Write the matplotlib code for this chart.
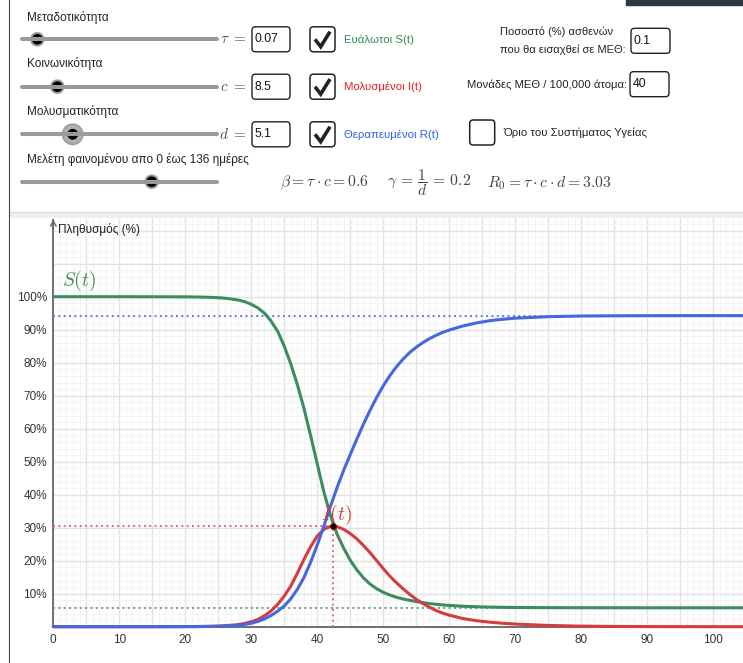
import matplotlib.pyplot as plt
from matplotlib.patches import Circle, FancyBboxPatch, Rectangle

plt.rcParams["font.family"] = ["Liberation Sans", "DejaVu Sans"]
plt.rcParams["mathtext.fontset"] = "cm"

# Καμπύλες του μοντέλου SIR (τιμές σε %), διαβασμένες από το γράφημα.
days = [0, 5, 10, 15, 20, 22, 24,
        25, 26, 27, 28, 29, 30, 31, 32, 33, 34, 35, 36, 37, 38, 39, 40,
        41, 42, 43, 44, 45, 46, 47, 48, 49, 50, 51, 52, 53, 54, 55, 56,
        57, 58, 59, 60, 62, 64, 66, 68, 70, 75, 80, 85, 90, 95, 100, 105]

susceptible = [100, 100, 100, 99.98, 99.95, 99.9, 99.8,
               99.7, 99.55, 99.3, 99.0, 98.5, 97.7, 96.6, 95.0, 92.6, 89.5, 85.0, 79.5, 73.2, 66.0, 57.8, 49.3,
               40.8, 33.7, 28.0, 23.8, 20.1, 17.2, 14.8, 12.9, 11.5, 10.4, 9.6, 8.9, 8.4, 8.0, 7.6, 7.3,
               7.0, 6.8, 6.6, 6.45, 6.2, 6.05, 5.95, 5.88, 5.82, 5.77, 5.75, 5.74, 5.73, 5.73, 5.73, 5.73]

infected = [0, 0, 0, 0.01, 0.03, 0.06, 0.13,
            0.2, 0.3, 0.45, 0.65, 1.0, 1.5, 2.2, 3.3, 4.8, 6.8, 9.3, 12.4, 16.3, 20.5, 24.3, 27.5,
            29.5, 30.4, 30.3, 29.5, 28.2, 26.6, 24.6, 22.4, 20.0, 17.6, 15.3, 13.3, 11.5, 9.8, 8.3, 7.0,
            5.9, 4.9, 4.1, 3.5, 2.5, 1.85, 1.4, 1.05, 0.8, 0.38, 0.17, 0.08, 0.04, 0.02, 0.01, 0.0]

recovered = [0, 0, 0, 0, 0.02, 0.04, 0.09,
             0.13, 0.2, 0.3, 0.45, 0.68, 1.05, 1.6, 2.35, 3.4, 4.7, 6.3, 8.5, 11.4, 15.0, 19.6, 24.8,
             30.5, 36.5, 42.2, 47.4, 52.2, 56.9, 61.4, 65.6, 69.5, 73.0, 76.1, 78.8, 81.1, 83.1, 84.7, 86.1,
             87.3, 88.3, 89.2, 89.9, 91.1, 92.0, 92.7, 93.15, 93.5, 93.95, 94.15, 94.22, 94.25, 94.27, 94.27, 94.27]

s_final = 5.7
r_final = 94.2
peak_day = 42.4
peak_value = 30.46

x_ticks = [0, 10, 20, 30, 40, 50, 60, 70, 80, 90, 100]
y_ticks = [10, 20, 30, 40, 50, 60, 70, 80, 90, 100]

# Στοιχεία ελέγχου της εφαρμογής.
slider_labels = ["Μεταδοτικότητα", "Κοινωνικότητα", "Μολυσματικότητα",
                 "Μελέτη φαινομένου απο 0 έως 136 ημέρες"]
param_symbols = [r"$\tau\;=$", r"$c\;=$", r"$d\;=$"]
param_values = ["0.07", "8.5", "5.1"]
curve_names = ["Ευάλωτοι S(t)", "Μολυσμένοι I(t)", "Θεραπευμένοι R(t)"]

GREEN = "#3c8c5f"
RED = "#d63c3c"
BLUE = "#4468dd"
TEXT_COLORS = ["#2e8b57", "#e0201e", "#3060ee"]

X_MIN, X_MAX = -6.56, 104.5
Y_MIN, Y_MAX = -11.0, 123.85

fig = plt.figure(figsize=(7.43, 6.63), dpi=100)

# Πάνελ σε συντεταγμένες pixel.
panel = fig.add_axes([0, 0, 1, 1])
panel.set_xlim(0, 743)
panel.set_ylim(663, 0)
panel.axis("off")

panel.add_patch(Rectangle((626, 0), 117, 4.7, color="#2b3a42"))
panel.plot([9.3, 9.3], [0, 663], color="#444444", lw=0.8)
panel.add_patch(Rectangle((10, 211.5), 733, 6.5, color="#efefef"))
panel.plot([10, 743], [211.5, 211.5], color="#dcdcdc", lw=0.8)


def draw_box(x, yc, w, text=None):
    panel.add_patch(FancyBboxPatch((x, yc - 12.5), w, 25,
                                   boxstyle="round,pad=0,rounding_size=3.5",
                                   fc="white", ec="#222222", lw=1.0))
    if text is not None:
        panel.text(x + 2.5, yc, text, fontsize=8.8, va="center", ha="left", color="#111111")


def draw_checkbox(x, yc, checked):
    panel.add_patch(FancyBboxPatch((x, yc - 12.5), 25, 25,
                                   boxstyle="round,pad=0,rounding_size=3.5",
                                   fc="white", ec="#222222", lw=1.1))
    if checked:
        panel.plot([x + 5, x + 10.7, x + 20], [yc, yc + 7.4, yc - 7.6],
                   color="#222222", lw=2.6, solid_capstyle="butt", solid_joinstyle="miter")


def draw_slider(y, knob_x, halo):
    panel.plot([21.7, 216.7], [y, y], color="#9a9a9a", lw=2.9, solid_capstyle="round")
    panel.add_patch(Circle((knob_x, y), halo, color="#7a7a7a", alpha=0.6))
    panel.add_patch(Circle((knob_x, y), 4.7, color="black"))


label_y = [17.5, 64, 111, 159.3]
slider_y = [39.3, 86.7, 134.3, 181.7]
knob_x = [37.3, 57.3, 72.7, 151.7]
halos = [6.7, 6.7, 10.3, 6.7]

for i in range(4):
    panel.text(27, label_y[i], slider_labels[i], fontsize=8.5, va="center", color="#222222")
    draw_slider(slider_y[i], knob_x[i], halos[i])

for i in range(3):
    panel.text(246, slider_y[i], param_symbols[i], fontsize=11, va="center", ha="right", color="#555555")
    draw_box(252, slider_y[i], 38, param_values[i])
    draw_checkbox(310, slider_y[i], True)
    panel.text(344, slider_y[i], curve_names[i], fontsize=8.2, va="center", color=TEXT_COLORS[i])

panel.text(500, 31.7, "Ποσοστό (%) ασθενών", fontsize=8.0, va="center", color="#222222")
panel.text(500, 49.5, "που θα εισαχθεί σε ΜΕΘ:", fontsize=8.0, va="center", color="#222222")
draw_box(631, 40.8, 39, "0.1")
panel.text(467, 85, "Μονάδες ΜΕΘ / 100,000 άτομα:", fontsize=8.1, va="center", color="#222222")
draw_box(630, 84.2, 39, "40")
draw_checkbox(469.7, 132.5, False)
panel.text(503.7, 132.7, "Όριο του Συστήματος Υγείας", fontsize=8.2, va="center", color="#222222")

formula_kw = dict(fontsize=11.3, va="center", color="#444444")
panel.text(280, 183, r"$\beta = \tau\cdot c = 0.6$", **formula_kw)
panel.text(387, 183, r"$\gamma\, =\, \dfrac{1}{d}\, =\, 0.2$", **formula_kw)
panel.text(487, 183, r"$R_0 = \tau\cdot c\cdot d = 3.03$", **formula_kw)

# Γράφημα.
ax = fig.add_axes([10 / 743, 0, 733 / 743, 445 / 663])
ax.set_facecolor("white")
ax.set_xlim(X_MIN, X_MAX)
ax.set_ylim(Y_MIN, Y_MAX)

# Πλέγμα μόνο στο θετικό τεταρτημόριο.
for t in range(0, 105):
    major = t % 5 == 0
    ax.vlines(t, 0, Y_MAX, colors="#e2e2e2" if major else "#f2f2f2",
              lw=1.0 if major else 0.6, zorder=0)
for v in range(0, 124, 2):
    major = v % 10 == 0
    ax.hlines(v, 0, X_MAX, colors="#e2e2e2" if major else "#f2f2f2",
              lw=1.0 if major else 0.6, zorder=0)

ax.set_xticks(x_ticks)
ax.set_xticklabels([str(t) for t in x_ticks])
ax.set_yticks(y_ticks)
ax.set_yticklabels([f"{v}%" for v in y_ticks])
ax.tick_params(which="both", length=0, labelsize=8.5, labelcolor="#333333")
ax.tick_params(axis="x", pad=5.5)
ax.tick_params(axis="y", pad=4.5)

for side in ["top", "right"]:
    ax.spines[side].set_visible(False)
ax.spines["left"].set_position(("data", 0))
ax.spines["left"].set_bounds(0, 123.2)
ax.spines["bottom"].set_position(("data", 0))
ax.spines["bottom"].set_bounds(0, X_MAX)
for side in ["left", "bottom"]:
    ax.spines[side].set_color("#666666")
    ax.spines[side].set_linewidth(1.3)
    ax.spines[side].set_zorder(1.5)
ax.annotate("", xy=(0, 123.5), xytext=(0, 120.5),
            arrowprops=dict(arrowstyle="->", color="#666666", lw=1.0, shrinkA=0, shrinkB=0))

dots = (0, (1, 1.75))
ax.hlines(r_final, 0, days[-1], colors="#5b7fe6", lw=1.4, linestyles=[dots], zorder=2)
ax.hlines(s_final, 0, days[-1], colors="#5aa57a", lw=1.4, linestyles=[dots], zorder=2)
ax.hlines(peak_value, 0, peak_day, colors="#e46a6a", lw=1.4, linestyles=[dots], zorder=2)
ax.vlines(peak_day, 0, peak_value, colors="#e46a6a", lw=1.4, linestyles=[dots], zorder=2)

ax.plot(days, susceptible, color=GREEN, lw=2.2, solid_capstyle="round", zorder=3)
ax.plot(days, infected, color=RED, lw=2.2, solid_capstyle="round", zorder=3)
ax.plot(days, recovered, color=BLUE, lw=2.2, solid_capstyle="round", zorder=3)

ax.plot(peak_day, peak_value, "o", ms=4, mfc="black", mec="#6a0000", mew=0.8, zorder=5)

ax.text(1.27, 104.8, r"$S(t)$", color=GREEN, fontsize=14, ha="left", va="center", zorder=6)
ax.text(40.6, 33.8, r"$I(t)$", color=RED, fontsize=14, ha="left", va="center", zorder=6)
ax.text(0.7, 120.5, "Πληθυσμός (%)", fontsize=8.5, ha="left", va="center", color="#222222")

fig.savefig("out.png", dpi=100)
plt.close(fig)
